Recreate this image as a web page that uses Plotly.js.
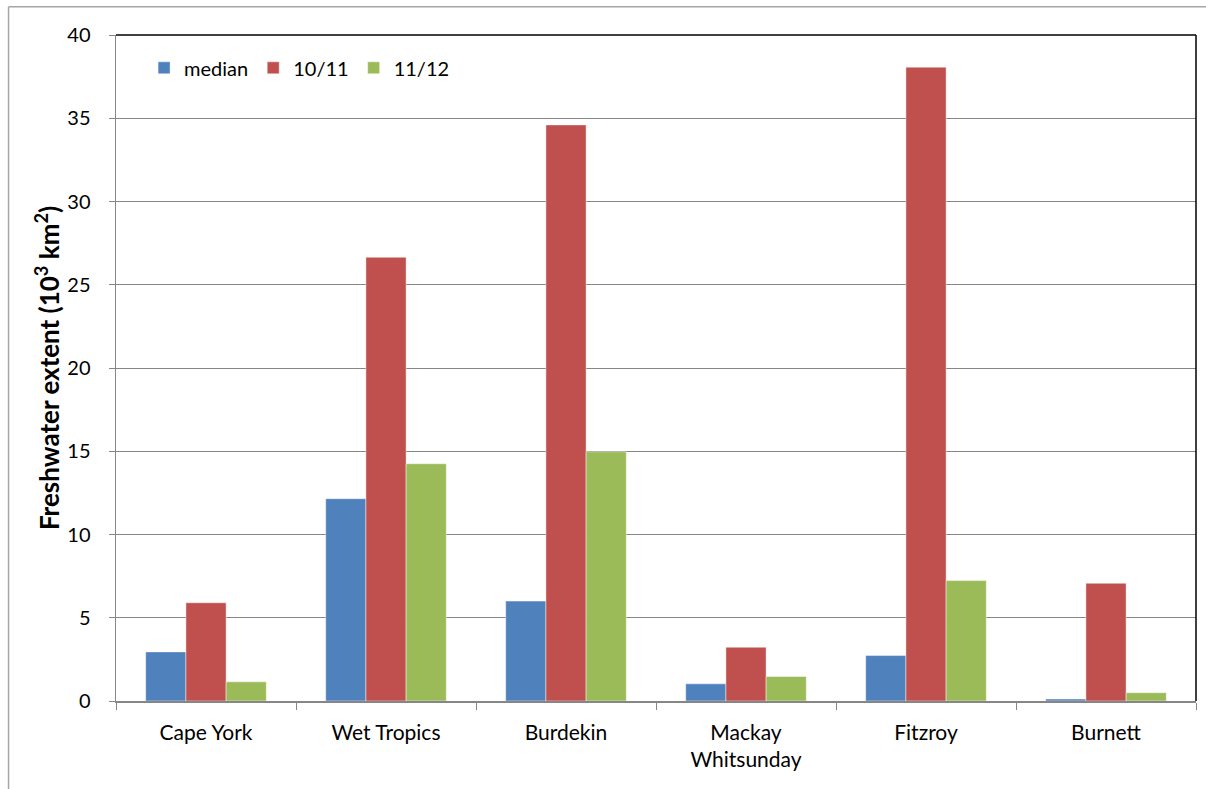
<!DOCTYPE html>
<html>
<head>
<meta charset="utf-8">
<script src="https://cdn.plot.ly/plotly-3.0.1.min.js"></script>
<style>
  html, body { margin: 0; padding: 0; background: #fff; }
  #chart { width: 1206px; height: 789px; }
</style>
</head>
<body>
<div id="chart"></div>
<script>
// Freshwater plume extent by NRM region (thousand km²)
const regions = ["Cape York", "Wet Tropics", "Burdekin", "Mackay<br>Whitsunday", "Fitzroy", "Burnett"];
const medianValues = [2.95, 12.15, 6.0, 1.03, 2.73, 0.12];
const year1011Values = [5.9, 26.65, 34.6, 3.23, 38.07, 7.07];
const year1112Values = [1.15, 14.25, 14.97, 1.47, 7.23, 0.5];
const seriesNames = ["median", "10/11", "11/12"];
const seriesColors = ["#4F81BD", "#C0504D", "#9BBB59"];
const yTicks = [0, 5, 10, 15, 20, 25, 30, 35, 40];

const font = "Lato, 'Open Sans', sans-serif";

const traces = [medianValues, year1011Values, year1112Values].map((vals, i) => ({
  type: "bar",
  name: seriesNames[i],
  x: regions,
  y: vals,
  marker: { color: seriesColors[i], line: { color: "rgba(255,255,255,0.45)", width: 1 } },
  hoverinfo: "x+y+name"
}));

const layout = {
  width: 1206,
  height: 789,
  margin: { l: 116, r: 10, t: 35, b: 88 },
  paper_bgcolor: "#fff",
  plot_bgcolor: "#fff",
  barmode: "group",
  bargap: 0.33,
  bargroupgap: 0,
  showlegend: true,
  legend: {
    orientation: "h",
    x: 0.026, y: 0.98,
    xanchor: "left", yanchor: "top",
    font: { family: font, size: 20, color: "#000" },
    bgcolor: "rgba(0,0,0,0)",
    itemwidth: 30,
    traceorder: "normal"
  },
  xaxis: {
    type: "category",
    tickson: "boundaries",
    ticks: "outside",
    ticklen: 7,
    tickcolor: "#868686",
    showline: true,
    linecolor: "#868686",
    linewidth: 1.5,
    showgrid: false,
    ticklabelstandoff: 12,
    tickfont: { family: font, size: 21, color: "#000" },
    fixedrange: true
  },
  yaxis: {
    range: [0, 40],
    tickvals: yTicks,
    ticktext: yTicks.map(String),
    ticks: "outside",
    ticklen: 6,
    tickcolor: "#868686",
    showline: true,
    linecolor: "#868686",
    linewidth: 1.5,
    showgrid: true,
    gridcolor: "#868686",
    gridwidth: 1,
    zeroline: false,
    ticklabelstandoff: 14,
    tickfont: { family: font, size: 20, color: "#000" },
    title: {
      text: "<b>Freshwater extent (10<sup>3</sup> km<sup>2</sup>)</b>",
      font: { family: font, size: 26, color: "#000" },
      standoff: 0
    },
    fixedrange: true
  },
  shapes: [
    // plot-area border on top and right
    { type: "line", xref: "paper", yref: "paper", x0: 0, x1: 1, y0: 1, y1: 1, line: { color: "#000", width: 1.5 } },
    { type: "line", xref: "paper", yref: "paper", x0: 1, x1: 1, y0: 0, y1: 1, line: { color: "#000", width: 1.5 } },
    // outer chart frame
    { type: "line", xref: "paper", yref: "paper", x0: -0.0995, x1: 1.2, y0: 1.0425, y1: 1.0425, line: { color: "#a6a6a6", width: 1.5 } },
    { type: "line", xref: "paper", yref: "paper", x0: -0.0995, x1: -0.0995, y0: -0.2, y1: 1.0425, line: { color: "#a6a6a6", width: 1.5 } }
  ]
};

Plotly.newPlot("chart", traces, layout, { displayModeBar: false, staticPlot: true });
</script>
</body>
</html>
